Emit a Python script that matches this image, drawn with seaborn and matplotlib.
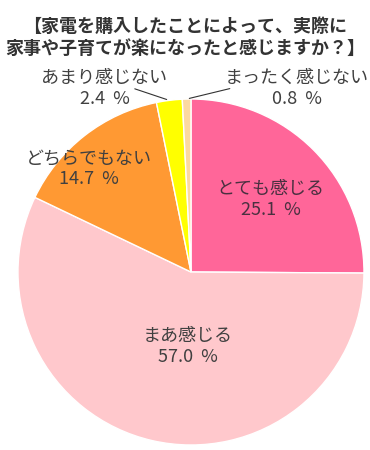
import numpy as np
import matplotlib
matplotlib.use("Agg")
import matplotlib.pyplot as plt
import seaborn as sns

# データ
labels = ["とても感じる", "まあ感じる", "どちらでもない", "あまり感じない", "まったく感じない"]
values = [25.1, 57.0, 14.7, 2.4, 0.8]
colors = ["#FF6699", "#FFC8CC", "#FF9933", "#FFFF00", "#FCD9A0"]
title = "【家電を購入したことによって、実際に\n家事や子育てが楽になったと感じますか？】"

sns.set_theme(style="white")
plt.rcParams["font.family"] = ["Noto Sans CJK JP", "DejaVu Sans"]

fig = plt.figure(figsize=(3.7, 4.5), dpi=100)
ax = fig.add_axes([0.0486, 0.0111, 0.9351, 0.7689])

wedges, _ = ax.pie(values, colors=sns.color_palette(colors), startangle=90,
                   counterclock=False, radius=1.0,
                   wedgeprops=dict(edgecolor="white", linewidth=1.0))
ax.set_xlim(-1, 1)
ax.set_ylim(-1, 1)
ax.axis("off")

# ラベル位置（中心からの位置）
label_pos = [(0.46, 0.42), (-0.02, -0.43), (-0.59, 0.595), (-0.50, 1.06), (0.61, 1.06)]
text_colors = ["#4a3040", "#404040", "#404040", "#404040", "#404040"]

for i, (lab, v) in enumerate(zip(labels, values)):
    x, y = label_pos[i]
    ax.text(x, y, f"{lab}\n{v:.1f}  %", ha="center", va="center",
            fontsize=13, color=text_colors[i], linespacing=1.2)

# 小さい項目の引き出し線
leader_start = {3: (-0.34, 1.064), 4: (0.24, 1.064)}
for i, start in leader_start.items():
    w = wedges[i]
    ang = np.deg2rad((w.theta1 + w.theta2) / 2)
    ax.annotate("", xy=(np.cos(ang), np.sin(ang)), xytext=start,
                arrowprops=dict(arrowstyle="-", color="#333333", lw=0.8),
                annotation_clip=False)

fig.text(0.5, 0.962, title, ha="center", va="top", fontsize=13,
         fontweight="bold", color="#333333", linespacing=1.2)

fig.savefig("out.png", dpi=100)
